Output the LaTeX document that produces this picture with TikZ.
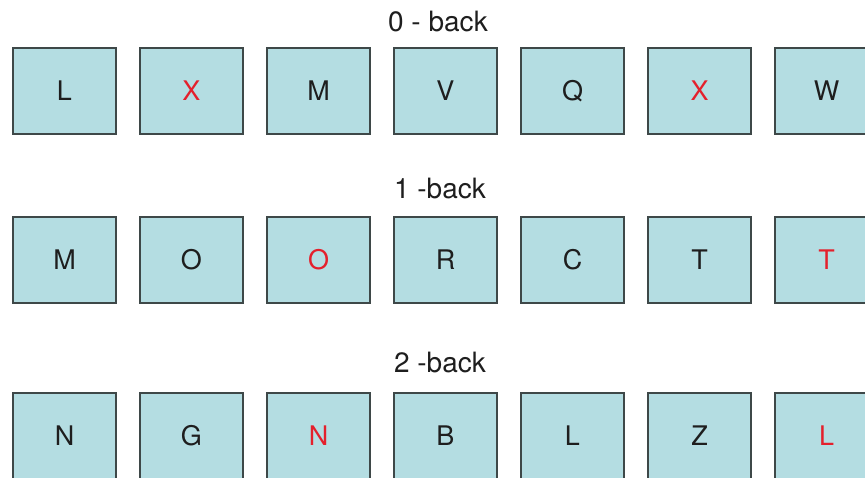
\documentclass[tikz,border=0pt]{standalone}
\usepackage{fontspec}
\setmainfont{TeX Gyre Heros}
\definecolor{boxfill}{RGB}{180,221,226}
\definecolor{boxline}{RGB}{62,72,72}
\definecolor{hit}{RGB}{228,32,44}
\definecolor{txt}{RGB}{30,30,30}
\begin{document}
\begin{tikzpicture}[x=1pt,y=-1pt,
  cell/.style={draw=boxline,line width=2.2pt,fill=boxfill,minimum width=103pt,minimum height=86pt,inner sep=0pt,
    font=\fontsize{27}{30}\selectfont,text=txt},
  lab/.style={font=\fontsize{28}{32}\selectfont,text=txt,inner sep=0pt}]
\useasboundingbox (0,0) rectangle (865,477);
\clip (0,0) rectangle (865,477);
% row labels
\node[lab] (l0) at (438,22) {0 - back};
\node[lab] (l1) at (440,188) {1 -back};
\node[lab] (l2) at (440,362) {2 -back};
% row 0
\foreach \t/\c [count=\i from 0] in {L/txt,X/hit,M/txt,V/txt,Q/txt,X/hit,W/txt}
  \node[cell,text=\c] (a\i) at (64.5+127*\i,91) {\t};
% row 1
\foreach \t/\c [count=\i from 0] in {M/txt,O/txt,O/hit,R/txt,C/txt,T/txt,T/hit}
  \node[cell,text=\c] (b\i) at (64.5+127*\i,260) {\t};
% row 2
\foreach \t/\c [count=\i from 0] in {N/txt,G/txt,N/hit,B/txt,L/txt,Z/txt,L/hit}
  \node[cell,text=\c] (c\i) at (64.5+127*\i,436) {\t};
\end{tikzpicture}
\end{document}
